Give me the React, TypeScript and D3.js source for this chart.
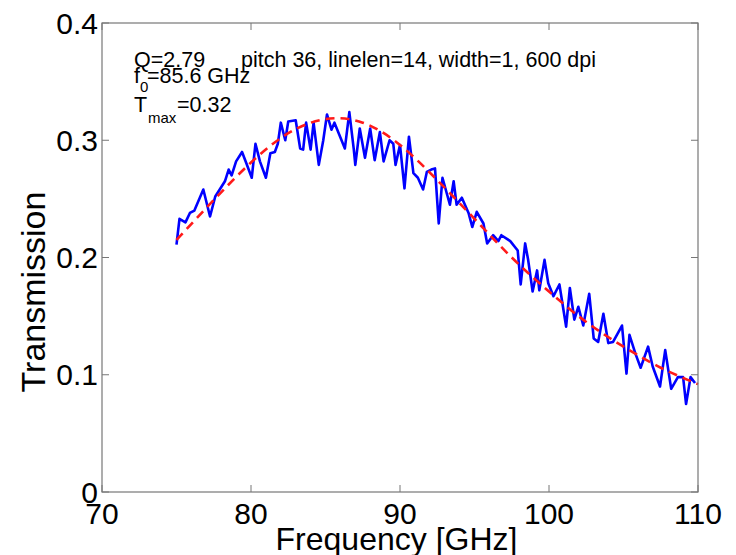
import React from "react";
import * as d3 from "d3";

// Measured transmission spectrum (frequency in GHz, transmission)
const measFreq = [
  75.0, 75.2, 75.6, 75.9, 76.2, 76.8, 77.25, 77.6, 77.9, 78.25, 78.5, 78.7, 79.0, 79.4, 79.7,
  80.05, 80.3, 80.6, 81.0, 81.3, 81.6, 81.8, 82.0, 82.3, 82.5, 83.0, 83.3, 83.5, 83.7, 84.0,
  84.2, 84.55, 84.85, 85.1, 85.4, 85.6, 86.3, 86.6, 86.9, 87.0, 87.3, 87.65, 88.0, 88.3, 88.65,
  88.9, 89.3, 89.55, 89.7, 90.0, 90.3, 90.6, 90.9, 91.2, 91.55, 91.8, 92.1, 92.35, 92.6, 92.85,
  93.35, 93.6, 93.8, 94.15, 94.6, 94.85, 95.15, 95.6, 95.85, 96.25, 96.6, 96.8, 97.4, 97.9, 98.1,
  98.4, 98.6, 98.9, 99.2, 99.35, 99.7, 99.95, 100.3, 100.7, 101.15, 101.4, 101.7, 101.97, 102.3,
  102.7, 103.0, 103.3, 103.65, 103.98, 104.3, 104.9, 105.2, 105.4, 105.8, 106.15, 106.65, 106.96,
  107.45, 107.8, 108.2, 108.65, 109.0, 109.2, 109.5, 109.8,
];
const measT = [
  0.211, 0.233, 0.23, 0.238, 0.24, 0.258, 0.235, 0.252, 0.258, 0.265, 0.275, 0.27, 0.282, 0.29, 0.28,
  0.268, 0.297, 0.282, 0.268, 0.289, 0.29, 0.297, 0.315, 0.3, 0.316, 0.317, 0.293, 0.292, 0.315, 0.292,
  0.315, 0.279, 0.3, 0.322, 0.309, 0.315, 0.293, 0.324, 0.292, 0.279, 0.31, 0.285, 0.31, 0.283, 0.307,
  0.282, 0.3, 0.297, 0.279, 0.296, 0.259, 0.303, 0.272, 0.268, 0.258, 0.273, 0.275, 0.276, 0.229, 0.268,
  0.245, 0.265, 0.245, 0.251, 0.238, 0.226, 0.239, 0.229, 0.212, 0.219, 0.214, 0.219, 0.214, 0.206, 0.177,
  0.212, 0.198, 0.171, 0.189, 0.172, 0.198, 0.178, 0.167, 0.177, 0.141, 0.174, 0.147, 0.158, 0.142,
  0.169, 0.131, 0.128, 0.152, 0.127, 0.128, 0.142, 0.101, 0.134, 0.118, 0.106, 0.124, 0.107,
  0.09, 0.121, 0.088, 0.098, 0.098, 0.075, 0.098, 0.093,
];

// Resonance fit
const fitFreq = [75, 77.5, 80, 82.5, 85, 87.5, 90, 92.5, 95, 97.5, 100, 102.5, 105, 107.5, 110];
const fitT = [0.215, 0.249, 0.281, 0.306, 0.318, 0.315, 0.296, 0.266, 0.233, 0.2, 0.171, 0.145, 0.124, 0.106, 0.092];

const xTicks = [70, 80, 90, 100, 110];
const yTicks = [0, 0.1, 0.2, 0.3, 0.4];
const yTickLabels = ["0", "0.1", "0.2", "0.3", "0.4"];

const W = 736;
const H = 555;
const left = 102;
const right = 698;
const top = 23;
const bottom = 492;
const FONT = "'Liberation Sans', Arial, Helvetica, sans-serif";

export default function App() {
  const x = d3.scaleLinear().domain([70, 110]).range([left, right]);
  const y = d3.scaleLinear().domain([0, 0.4]).range([bottom, top]);

  const meas = measFreq.map((f, i) => [f, measT[i]] as [number, number]);
  const fit = fitFreq.map((f, i) => [f, fitT[i]] as [number, number]);

  const line = d3
    .line<[number, number]>()
    .x((d) => x(d[0]))
    .y((d) => y(d[1]));
  const smooth = d3
    .line<[number, number]>()
    .x((d) => x(d[0]))
    .y((d) => y(d[1]))
    .curve(d3.curveNatural);

  const tickLen = 7;
  const axisColor = "#777";

  return (
    <svg
      width={W}
      height={H}
      style={{ position: "absolute", left: 0, top: 0, background: "#fff" }}
      fontFamily={FONT}
    >
      <rect x={0} y={0} width={W} height={H} fill="#fff" />

      {/* data */}
      <path d={line(meas) ?? ""} fill="none" stroke="#0000ff" strokeWidth={2.6} strokeLinejoin="round" />
      <path
        d={smooth(fit) ?? ""}
        fill="none"
        stroke="#ff1a1a"
        strokeWidth={2.6}
        strokeDasharray="9,6"
      />

      {/* axes box */}
      <rect x={left} y={top} width={right - left} height={bottom - top} fill="none" stroke={axisColor} strokeWidth={1.2} />

      {xTicks.map((t) => (
        <g key={"x" + t}>
          <line x1={x(t)} x2={x(t)} y1={bottom} y2={bottom - tickLen} stroke={axisColor} strokeWidth={1} />
          <line x1={x(t)} x2={x(t)} y1={top} y2={top + tickLen} stroke={axisColor} strokeWidth={1} />
          <text x={x(t)} y={523.5} fontSize={30} textAnchor="middle" fill="#000">
            {t}
          </text>
        </g>
      ))}
      {yTicks.map((t, i) => (
        <g key={"y" + t}>
          <line x1={left} x2={left + tickLen} y1={y(t)} y2={y(t)} stroke={axisColor} strokeWidth={1} />
          <line x1={right} x2={right - tickLen} y1={y(t)} y2={y(t)} stroke={axisColor} strokeWidth={1} />
          <text x={98} y={y(t) + 10.7} fontSize={30} textAnchor="end" fill="#000">
            {yTickLabels[i]}
          </text>
        </g>
      ))}

      {/* axis labels */}
      <text x={396.5} y={550} fontSize={32} textAnchor="middle" fill="#000">
        Frequency [GHz]
      </text>
      <text
        transform={`translate(45,292) rotate(-90)`}
        fontSize={34}
        textAnchor="middle"
        fill="#000"
      >
        Transmission
      </text>

      {/* annotations */}
      <g fill="#000">
        <text x={134} y={67} fontSize={21.5}>Q=2.79</text>
        <text x={241} y={67} fontSize={21.5}>pitch 36, linelen=14, width=1, 600 dpi</text>
        <text x={134} y={83} fontSize={21.5}>f</text>
        <text x={140} y={92} fontSize={15}>0</text>
        <text x={147} y={83} fontSize={21.5}>=85.6 GHz</text>
        <text x={134} y={112} fontSize={21.5}>T</text>
        <text x={148} y={123} fontSize={15}>max</text>
        <text x={177} y={112} fontSize={21.5}>=0.32</text>
      </g>
    </svg>
  );
}
